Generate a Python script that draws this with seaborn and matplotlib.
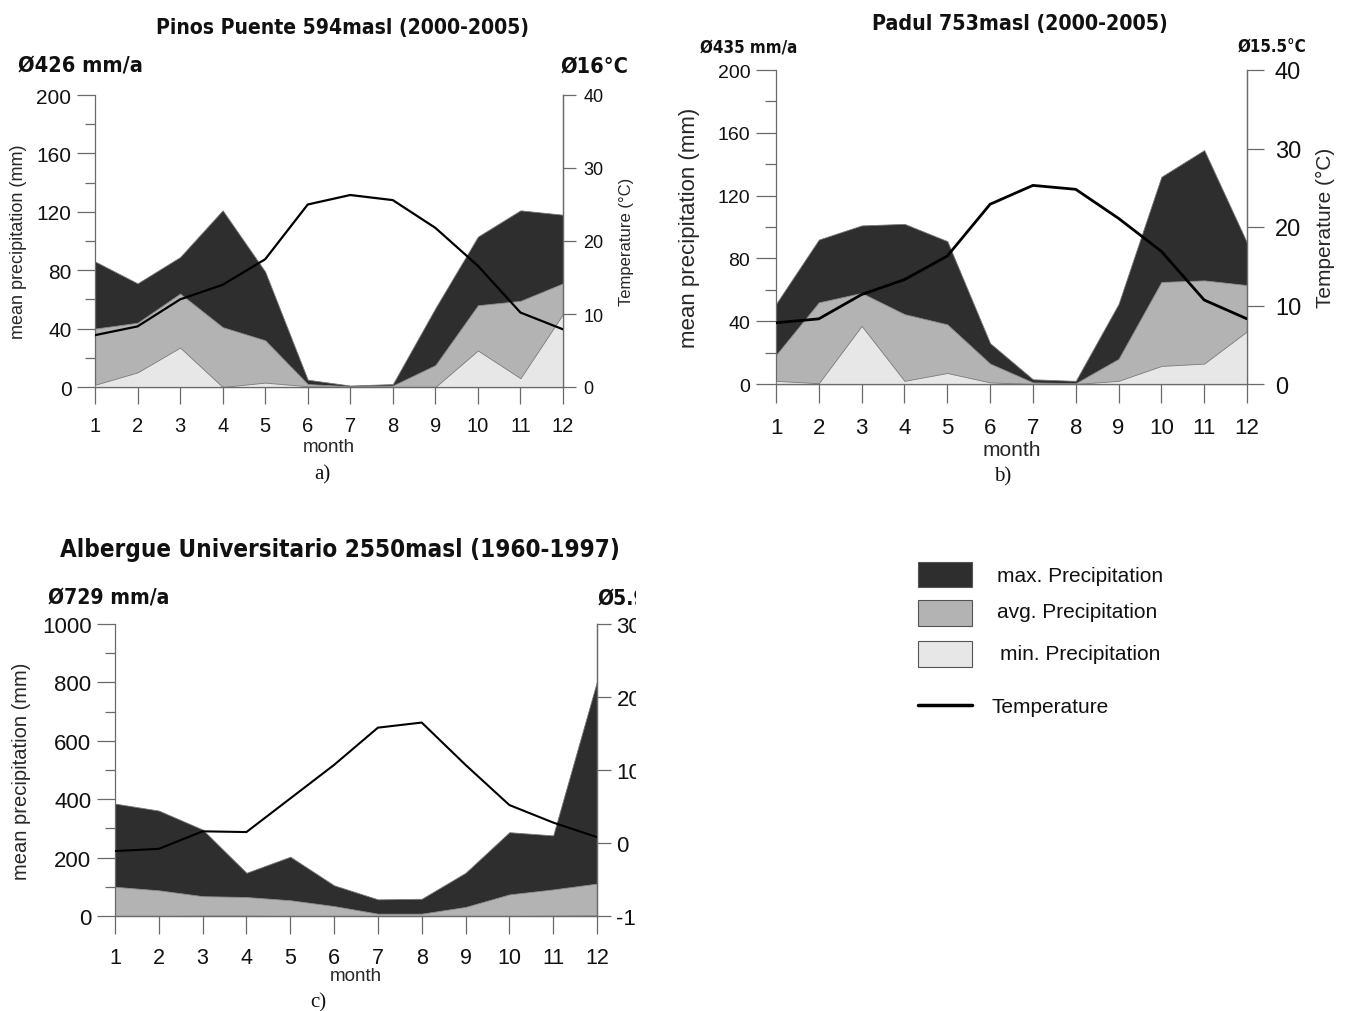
import matplotlib
matplotlib.use("Agg")
import matplotlib.pyplot as plt
import seaborn as sns
from matplotlib import font_manager
from matplotlib.patches import Rectangle
from matplotlib.lines import Line2D
from matplotlib.ticker import MultipleLocator
from matplotlib.transforms import Bbox, TransformedBbox

months = list(range(1, 13))

# Pinos Puente 594 masl (2000-2005)
pinos_max = [86, 71, 89, 121, 79, 5, 1, 2, 54, 103, 121, 118]
pinos_avg = [40, 44, 64, 41, 32, 2, 0.5, 1, 15, 56, 59, 71]
pinos_min = [1.5, 10, 27, 0, 3, 0.5, 0, 0, 0, 25, 6, 50]
pinos_temp = [7.1, 8.3, 12.0, 14.0, 17.5, 25.0, 26.3, 25.6, 21.8, 16.6, 10.2, 7.9]

# Padul 753 masl (2000-2005)
padul_max = [51, 92, 101, 102, 91, 26, 3, 2, 51, 132, 149, 90]
padul_avg = [18.5, 52, 58, 44.5, 38, 13, 1, 0.5, 16, 65, 66, 63]
padul_min = [2, 0.5, 37, 2, 7, 1, 0, 0, 2, 11.5, 13, 33.5]
padul_temp = [7.8, 8.3, 11.4, 13.3, 16.3, 22.9, 25.3, 24.8, 21.1, 16.9, 10.7, 8.3]

# Albergue Universitario 2550 masl (1960-1997)
albergue_max = [385, 361, 296, 148, 203, 105, 57, 59, 148, 287, 276, 804]
albergue_avg = [100, 88, 68, 65, 54, 34, 8, 8, 31, 74, 91, 111]
albergue_min = [0, 0, 1, 1, 0, 0, 0, 0, 0, 0, 1, 2]
albergue_temp = [-1.1, -0.8, 1.6, 1.5, 6.1, 10.7, 15.8, 16.5, 10.7, 5.2, 2.8, 0.8]

MAX_COLOR = "#2e2e2e"
AVG_COLOR = "#b3b3b3"
MIN_COLOR = "#e7e7e7"
AXIS_GREY = "#6a6a6a"

sns.set_theme(style="white")
plt.rcParams["font.family"] = ["Liberation Sans", "DejaVu Sans"]
plt.rcParams["axes.edgecolor"] = AXIS_GREY
plt.rcParams["axes.linewidth"] = 0.9
plt.rcParams["axes.unicode_minus"] = False
plt.rcParams["text.color"] = "#111111"
plt.rcParams["xtick.color"] = "#111111"
plt.rcParams["ytick.color"] = "#111111"

# narrow bold face for the titles and annual means
fonts = font_manager.fontManager.ttflist
if any(f.name == "Liberation Sans Narrow" for f in fonts):
    NARROW = dict(family=["Liberation Sans Narrow", "DejaVu Sans"])
    K = 1.0
elif any(f.name == "DejaVu Sans" and f.stretch == "condensed" for f in fonts):
    NARROW = dict(family=["DejaVu Sans"], stretch="condensed")
    K = 0.84
else:
    NARROW = dict(family=["Liberation Sans", "DejaVu Sans"])
    K = 0.82
REG = dict(family=["Liberation Sans", "DejaVu Sans"])
SERIF = dict(family=["Liberation Serif", "DejaVu Serif"])

W, H = 1351, 1012
fig = plt.figure(figsize=(W / 100, H / 100), dpi=100)


def fx(x):
    return x / W


def fy(y):
    return 1 - y / H


def panel(box, pmax, pavg, pmin, temp, plim, pmajor, tlim, tmajor,
          tick_fs, lab_fs, rlab_fs, month_fs, lab_x, rlab_x, month_y, lw_temp,
          tick_lens, pads):
    x0, y0, x1, y1 = box
    ax = fig.add_axes([fx(x0), fy(y1), (x1 - x0) / W, (y1 - y0) / H])
    ax.fill_between(months, 0, pmax, color=MAX_COLOR, lw=0.6, edgecolor="#777777", zorder=1)
    ax.fill_between(months, 0, pavg, color=AVG_COLOR, lw=0.6, edgecolor="#8c8c8c", zorder=2)
    ax.fill_between(months, 0, pmin, color=MIN_COLOR, lw=0.6, edgecolor="#7a7a7a", zorder=3)
    ax.set_xlim(1, 12)
    ax.set_ylim(*plim)
    ax.set_xticks(months)
    ax.set_yticks(list(range(plim[0], plim[1] + 1, pmajor)))
    ax.yaxis.set_minor_locator(MultipleLocator(pmajor / 2))
    ax.spines["top"].set_visible(False)
    ax.tick_params(axis="x", direction="out", length=tick_lens[0], width=0.9,
                   color=AXIS_GREY, labelsize=tick_fs[1], pad=pads[1], bottom=True)
    ax.tick_params(axis="y", which="major", direction="out", length=tick_lens[1], width=0.9,
                   color=AXIS_GREY, labelsize=tick_fs[0], pad=pads[0], left=True)
    ax.tick_params(axis="y", which="minor", direction="out", length=tick_lens[1] * 0.55,
                   width=0.9, color=AXIS_GREY, left=True)
    ax.set_xlabel("month", fontsize=month_fs, va="center", **REG)
    ax.xaxis.set_label_coords(0.5, (y1 - month_y) / (y1 - y0))
    ax.set_ylabel("mean precipitation (mm)", fontsize=lab_fs, va="center", **REG)
    ax.yaxis.set_label_coords((lab_x - x0) / (x1 - x0), 0.5)

    ax2 = ax.twinx()
    sns.lineplot(x=months, y=temp, ax=ax2, color="black", lw=lw_temp, zorder=5)
    ax2.set_ylim(*tlim)
    ax2.set_yticks(list(range(tlim[0], tlim[1] + 1, tmajor)))
    ax2.spines["top"].set_visible(False)
    ax2.spines["left"].set_visible(False)
    ax2.tick_params(axis="y", direction="out", length=tick_lens[2], width=0.9,
                    color=AXIS_GREY, labelsize=tick_fs[2], pad=pads[2], right=True)
    ax2.set_ylabel("Temperature (°C)", fontsize=rlab_fs, va="center", **REG)
    ax2.yaxis.set_label_coords((rlab_x - x0) / (x1 - x0), 0.5)
    ax2.grid(False)
    ax.grid(False)
    return ax, ax2


def title(x, y, s, size, **kw):
    return fig.text(fx(x), fy(y), s, va="center", fontsize=size * K,
                    fontweight="bold", **NARROW, **kw)


# a) Pinos Puente
panel((95, 96, 563, 388), pinos_max, pinos_avg, pinos_min, pinos_temp,
      (0, 200), 40, (0, 40), 10, (15, 14.5, 13), 13, 12, 13.5, 19, 626, 448, 1.6,
      (12, 13, 9.5), (4, 9, 5))
title(343, 28, "Pinos Puente 594masl (2000-2005)", 18, ha="center")
title(18, 67, "Ø426 mm/a", 18.5, ha="left")
title(628, 67, "Ø16°C", 18.5, ha="right")
fig.text(fx(322), fy(475), "a)", ha="center", va="center", fontsize=15, **SERIF)

# b) Padul
panel((776, 71, 1247, 385), padul_max, padul_avg, padul_min, padul_temp,
      (0, 200), 40, (0, 40), 10, (14, 16, 17), 16, 15, 15, 690, 1325, 450, 2.0,
      (14, 14.5, 12), (4, 9.5, 8))
title(1020, 24, "Padul 753masl (2000-2005)", 18.2, ha="center")
title(700, 48, "Ø435 mm/a", 14.5, ha="left")
title(1306, 48, "Ø15.5°C", 14.5, ha="right")
fig.text(fx(1003), fy(477), "b)", ha="center", va="center", fontsize=15, **SERIF)

# c) Albergue Universitario; the right-hand side of this panel is cut off at x = 636
axc, axc2 = panel((115, 625, 597, 917), albergue_max, albergue_avg, albergue_min, albergue_temp,
                  (0, 1000), 200, (-10, 30), 10, (16, 15.5, 16), 14.5, 13, 13.5, 22, 700, 977,
                  1.5, (13, 13, 10), (4, 9, 4))
title(340, 550, "Albergue Universitario 2550masl (1960-1997)", 20.7, ha="center")
title(48, 599, "Ø729 mm/a", 18, ha="left")
t59 = title(598, 599, "Ø5.9°C", 18, ha="left")
fig.text(fx(318), fy(1003), "c)", ha="center", va="center", fontsize=15, **SERIF)

cut = TransformedBbox(Bbox.from_extents(0, 0, 636 / W, 1), fig.transFigure)
for t in [t59, axc2.yaxis.label] + axc2.get_yticklabels():
    t.set_clip_box(cut)
    t.set_clip_on(True)

# legend
legend_rows = [(563, 588, MAX_COLOR, "max. Precipitation", 997, 576),
               (601, 627, AVG_COLOR, "avg. Precipitation", 997, 613),
               (642, 668, MIN_COLOR, "min. Precipitation", 1000, 654)]
for ytop, ybot, col, label, tx, ty in legend_rows:
    fig.patches.append(Rectangle((fx(918), fy(ybot)), 54 / W, (ybot - ytop) / H,
                                 transform=fig.transFigure, facecolor=col,
                                 edgecolor="#555555", lw=0.8))
    fig.text(fx(tx), fy(ty), label, ha="left", va="center", fontsize=15, **REG)
fig.lines.append(Line2D([fx(918), fx(972)], [fy(706), fy(706)], transform=fig.transFigure,
                        color="black", lw=2.5))
fig.text(fx(991), fy(708), "Temperature", ha="left", va="center", fontsize=15, **REG)

fig.savefig("out.png", dpi=100)
